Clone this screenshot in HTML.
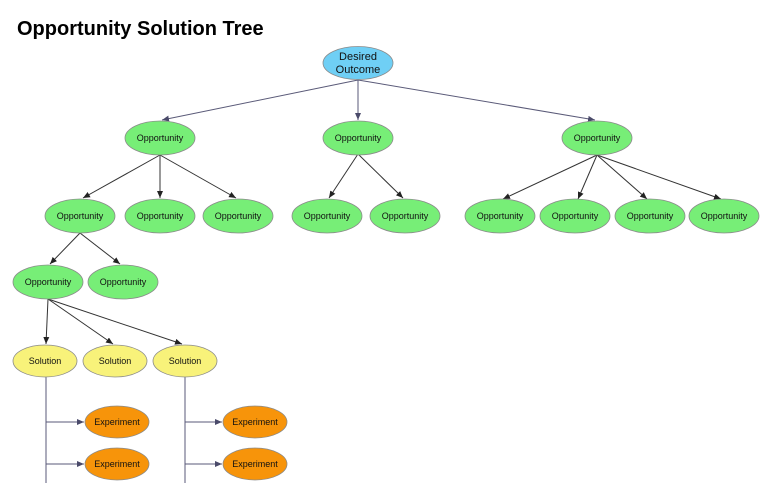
<!DOCTYPE html>
<html><head><meta charset="utf-8"><style>
html,body{margin:0;padding:0;background:#fff;width:771px;height:483px;overflow:hidden}
text{font-family:"Liberation Sans",sans-serif;font-size:9px;fill:#111;text-anchor:middle;dominant-baseline:central}
</style></head><body>
<svg width="771" height="483" viewBox="0 0 771 483" xmlns="http://www.w3.org/2000/svg">
<defs>
<marker id="a" markerWidth="8" markerHeight="8" refX="7" refY="3" orient="auto" markerUnits="userSpaceOnUse"><path d="M0,0 L7,3 L0,6 z" fill="#222"/></marker>
<marker id="b" markerWidth="8" markerHeight="8" refX="7" refY="3" orient="auto" markerUnits="userSpaceOnUse"><path d="M0,0 L7,3 L0,6 z" fill="#4a4a6a"/></marker>
</defs>
<text x="17" y="29" style="font-size:20px;font-weight:bold;text-anchor:start;fill:#000">Opportunity Solution Tree</text>
<g stroke="#5a5a78" stroke-width="1" fill="none">
<line x1="358" y1="80" x2="162" y2="120" marker-end="url(#b)"/>
<line x1="358" y1="80" x2="358" y2="120" marker-end="url(#b)"/>
<line x1="358" y1="80" x2="595" y2="120" marker-end="url(#b)"/>
<line x1="46" y1="377" x2="46" y2="483"/>
<line x1="185" y1="377" x2="185" y2="483"/>
<line x1="46" y1="422" x2="84" y2="422" marker-end="url(#b)"/>
<line x1="46" y1="464" x2="84" y2="464" marker-end="url(#b)"/>
<line x1="185" y1="422" x2="222" y2="422" marker-end="url(#b)"/>
<line x1="185" y1="464" x2="222" y2="464" marker-end="url(#b)"/>
</g>
<g stroke="#333" stroke-width="1" fill="none">
<line x1="160" y1="155" x2="83" y2="198" marker-end="url(#a)"/>
<line x1="160" y1="155" x2="160" y2="198" marker-end="url(#a)"/>
<line x1="160" y1="155" x2="236" y2="198" marker-end="url(#a)"/>
<line x1="358" y1="154" x2="329" y2="198" marker-end="url(#a)"/>
<line x1="358" y1="154" x2="403" y2="198" marker-end="url(#a)"/>
<line x1="597" y1="155" x2="503" y2="199" marker-end="url(#a)"/>
<line x1="597" y1="155" x2="578" y2="199" marker-end="url(#a)"/>
<line x1="597" y1="155" x2="647" y2="199" marker-end="url(#a)"/>
<line x1="597" y1="155" x2="721" y2="199" marker-end="url(#a)"/>
<line x1="80" y1="233" x2="50" y2="264" marker-end="url(#a)"/>
<line x1="80" y1="233" x2="120" y2="264" marker-end="url(#a)"/>
<line x1="48" y1="299" x2="46" y2="344" marker-end="url(#a)"/>
<line x1="48" y1="299" x2="113" y2="344" marker-end="url(#a)"/>
<line x1="48" y1="299" x2="182" y2="344" marker-end="url(#a)"/>
</g>
<g stroke="#8a8a8a" stroke-width="0.8">
<ellipse cx="358" cy="63" rx="35" ry="16.5" fill="#6fcff5"/>
<g fill="#77ee77">
<ellipse cx="160" cy="138" rx="35" ry="17"/>
<ellipse cx="358" cy="138" rx="35" ry="17"/>
<ellipse cx="597" cy="138" rx="35" ry="17"/>
<ellipse cx="80" cy="216" rx="35" ry="17"/>
<ellipse cx="160" cy="216" rx="35" ry="17"/>
<ellipse cx="238" cy="216" rx="35" ry="17"/>
<ellipse cx="327" cy="216" rx="35" ry="17"/>
<ellipse cx="405" cy="216" rx="35" ry="17"/>
<ellipse cx="500" cy="216" rx="35" ry="17"/>
<ellipse cx="575" cy="216" rx="35" ry="17"/>
<ellipse cx="650" cy="216" rx="35" ry="17"/>
<ellipse cx="724" cy="216" rx="35" ry="17"/>
<ellipse cx="48" cy="282" rx="35" ry="17"/>
<ellipse cx="123" cy="282" rx="35" ry="17"/>
</g>
<g fill="#f8f27a">
<ellipse cx="45" cy="361" rx="32" ry="16"/>
<ellipse cx="115" cy="361" rx="32" ry="16"/>
<ellipse cx="185" cy="361" rx="32" ry="16"/>
</g>
<g fill="#f7940a">
<ellipse cx="117" cy="422" rx="32" ry="16"/>
<ellipse cx="117" cy="464" rx="32" ry="16"/>
<ellipse cx="255" cy="422" rx="32" ry="16"/>
<ellipse cx="255" cy="464" rx="32" ry="16"/>
</g>
</g>
<text x="358" y="57" style="font-size:11px">Desired</text>
<text x="358" y="70" style="font-size:11px">Outcome</text>
<text x="160" y="138">Opportunity</text>
<text x="358" y="138">Opportunity</text>
<text x="597" y="138">Opportunity</text>
<text x="80" y="216">Opportunity</text>
<text x="160" y="216">Opportunity</text>
<text x="238" y="216">Opportunity</text>
<text x="327" y="216">Opportunity</text>
<text x="405" y="216">Opportunity</text>
<text x="500" y="216">Opportunity</text>
<text x="575" y="216">Opportunity</text>
<text x="650" y="216">Opportunity</text>
<text x="724" y="216">Opportunity</text>
<text x="48" y="282">Opportunity</text>
<text x="123" y="282">Opportunity</text>
<text x="45" y="361">Solution</text>
<text x="115" y="361">Solution</text>
<text x="185" y="361">Solution</text>
<text x="117" y="422">Experiment</text>
<text x="117" y="464">Experiment</text>
<text x="255" y="422">Experiment</text>
<text x="255" y="464">Experiment</text>
</svg>
</body></html>
